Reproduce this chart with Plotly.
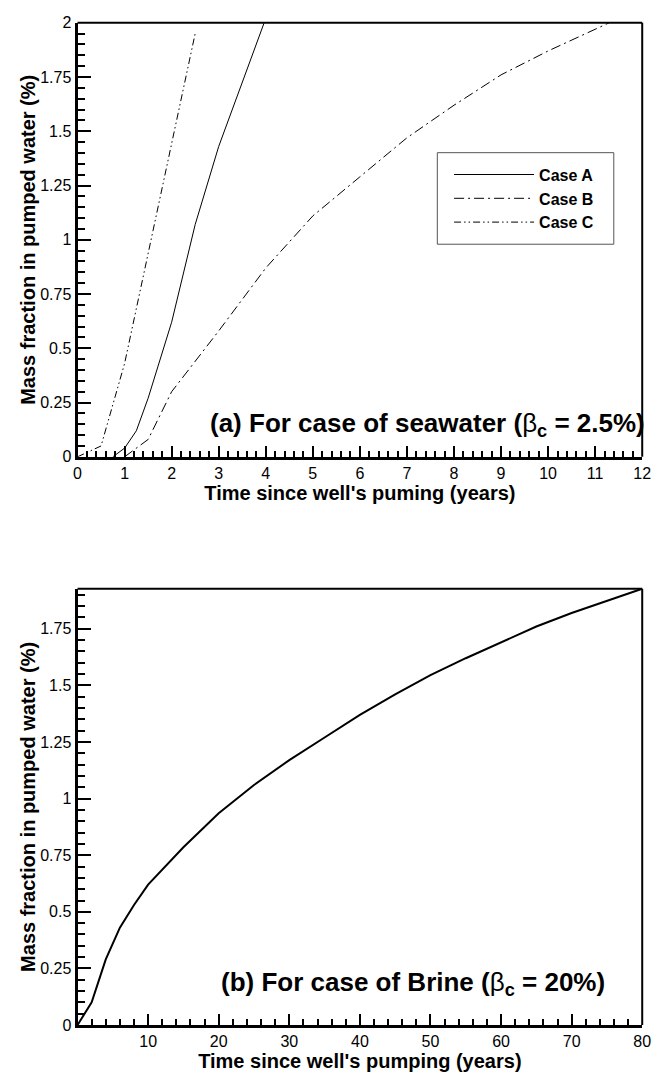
import plotly.graph_objects as go

# ---- data ----
case_a_t = [0.75, 1.0, 1.25, 1.5, 2.0, 2.5, 3.0, 3.5, 4.0]
case_a_c = [0.0, 0.04, 0.12, 0.27, 0.62, 1.07, 1.43, 1.73, 2.02]

case_b_t = [1.0, 1.5, 2.0, 3.0, 4.0, 5.0, 6.0, 7.0, 8.0, 9.0, 10.0, 11.0, 11.3]
case_b_c = [0.0, 0.08, 0.30, 0.58, 0.87, 1.11, 1.29, 1.47, 1.62, 1.76, 1.87, 1.97, 2.0]

case_c_t = [0.0, 0.5, 1.0, 1.5, 2.0, 2.5]
case_c_c = [0.0, 0.05, 0.43, 0.94, 1.44, 1.95]

brine_t = [0, 2, 4, 6, 8, 10, 15, 20, 25, 30, 35, 40, 45, 50, 55, 60, 65, 70, 75, 80]
brine_c = [0, 0.10, 0.29, 0.43, 0.53, 0.62, 0.785, 0.935, 1.06, 1.17, 1.27, 1.37,
           1.46, 1.545, 1.62, 1.69, 1.76, 1.82, 1.875, 1.927]

brine_tickvals = [10, 20, 30, 40, 50, 60, 70, 80]

legend_names = ["Case A", "Case B", "Case C"]

FONT = "Liberation Sans, Arial, sans-serif"

fig = go.Figure()
fig.add_trace(go.Scatter(x=case_a_t, y=case_a_c, mode="lines", name="<b>%s</b>" % legend_names[0],
                         line=dict(color="black", width=1), xaxis="x", yaxis="y"))
fig.add_trace(go.Scatter(x=case_b_t, y=case_b_c, mode="lines", name="<b>%s</b>" % legend_names[1],
                         line=dict(color="black", width=1, dash="10px,4px,2px,4px"), xaxis="x", yaxis="y"))
fig.add_trace(go.Scatter(x=case_c_t, y=case_c_c, mode="lines", name="<b>%s</b>" % legend_names[2],
                         line=dict(color="black", width=1, dash="7px,3px,1.5px,3px,1.5px,3px"), xaxis="x", yaxis="y"))
fig.add_trace(go.Scatter(x=brine_t, y=brine_c, mode="lines", showlegend=False,
                         line=dict(color="black", width=2), xaxis="x2", yaxis="y2"))

common = dict(showline=True, linecolor="black", linewidth=3, ticks="inside", tickcolor="black",
              tickwidth=2, showgrid=False, zeroline=False, mirror=False,
              tickfont=dict(size=16, color="black"))

xdom = [75 / 662, 651 / 662]
fig.update_layout(
    width=662, height=1080,
    margin=dict(l=0, r=0, t=0, b=0),
    paper_bgcolor="white", plot_bgcolor="white",
    font=dict(family=FONT, color="black"),
    xaxis=dict(common, domain=xdom, anchor="y", range=[0, 12], tick0=0, dtick=1, ticklen=11,
               minor=dict(ticks="inside", dtick=0.2, tick0=0, ticklen=6, tickwidth=1.5, tickcolor="black", showgrid=False),
               title=dict(text="<b>Time since well's puming (years)</b>", font=dict(size=20), standoff=0)),
    yaxis=dict(common, domain=[1 - 456 / 1080, 1 - 15 / 1080], anchor="x", range=[0, 2], tick0=0, dtick=0.25,
               ticklen=13,
               minor=dict(ticks="inside", dtick=0.05, tick0=0, ticklen=7, tickwidth=1.5, tickcolor="black", showgrid=False),
               title=dict(text="<b>Mass fraction in pumped water (%)</b>", font=dict(size=20), standoff=0)),
    xaxis2=dict(common, domain=xdom, anchor="y2", range=[0, 80], tickmode="array", tickvals=brine_tickvals,
                ticklen=11,
                minor=dict(tickmode="linear", ticks="inside", dtick=2, tick0=0, ticklen=6, tickwidth=1.5,
                           tickcolor="black", showgrid=False),
                title=dict(text="<b>Time since well's pumping (years)</b>", font=dict(size=20), standoff=0)),
    yaxis2=dict(common, domain=[1 - 1033.3 / 1080, 1 - 590 / 1080], anchor="x2", range=[0, 1.927], tick0=0, dtick=0.25,
                ticklen=13,
                minor=dict(ticks="inside", dtick=0.05, tick0=0, ticklen=7, tickwidth=1.5, tickcolor="black", showgrid=False),
                title=dict(text="<b>Mass fraction in pumped water (%)</b>", font=dict(size=20), standoff=0)),
    legend=dict(x=454 / 662, xanchor="left", y=1 - 152 / 1080, yanchor="top",
                borderwidth=0, bgcolor="rgba(0,0,0,0)",
                font=dict(size=16, color="black"), itemwidth=80, tracegroupgap=0),
    showlegend=True,
)

# legend frame
fig.add_shape(type="rect", xref="paper", yref="paper",
              x0=442 / 662, x1=622 / 662, y0=1 - 240 / 1080, y1=1 - 147 / 1080,
              line=dict(color="#555", width=1), fillcolor="rgba(0,0,0,0)", layer="above")

# top and right frame lines (thinner than the main axes)
for xr, yr in [("x", "y"), ("x2", "y2")]:
    fig.add_shape(type="line", xref=f"{xr} domain", yref=f"{yr} domain", x0=0, x1=1, y0=1, y1=1,
                  line=dict(color="black", width=2))
    fig.add_shape(type="line", xref=f"{xr} domain", yref=f"{yr} domain", x0=1, x1=1, y0=0, y1=1,
                  line=dict(color="black", width=2))

fig.add_annotation(xref="x domain", yref="y domain", x=1.008, y=0.075, xanchor="right", yanchor="middle",
                   showarrow=False, font=dict(size=26, color="black"),
                   text="<b>(a) For case of seawater (<span style='font-weight:normal'>β</span><sub>c</sub> = 2.5%)</b>")
fig.add_annotation(xref="x2 domain", yref="y2 domain", x=0.938, y=0.095, xanchor="right", yanchor="middle",
                   showarrow=False, font=dict(size=26, color="black"),
                   text="<b>(b) For case of Brine (<span style='font-weight:normal'>β</span><sub>c</sub> = 20%)</b>")

fig.write_html("out.html")
